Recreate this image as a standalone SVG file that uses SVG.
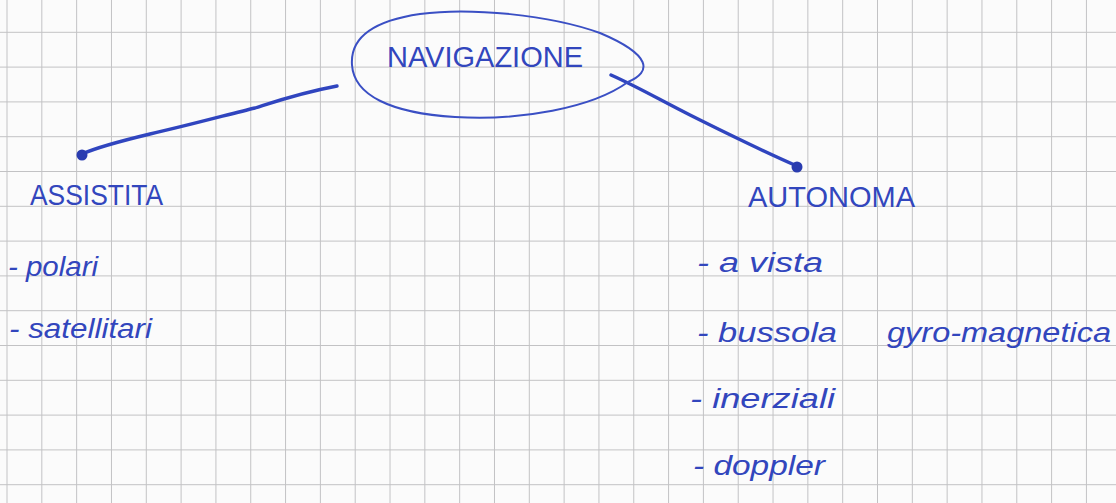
<svg xmlns="http://www.w3.org/2000/svg" width="1116" height="503" viewBox="0 0 1116 503">
  <defs>
    <!-- squared notebook paper -->
    <pattern id="grid" x="6.5" y="-3" width="34.82" height="34.8" patternUnits="userSpaceOnUse">
      <path d="M0 0 V34.8 M0 0 H34.82" fill="none" stroke="#c2c2c4" stroke-width="2"/>
    </pattern>
    <style>
      .ink { fill: #3246bd; font-family: "Liberation Sans", "DejaVu Sans", sans-serif; }
      .cap { font-size: 29px; }
      .low { font-size: 27px; font-style: italic; }
      .pen { fill: none; stroke: #3045bf; stroke-width: 3.4; stroke-linecap: round; stroke-linejoin: round; }
      .thin { fill: none; stroke: #3a4fc4; stroke-width: 2; stroke-linecap: round; }
      .dot { fill: #2a3cb0; }
    </style>
  </defs>

  <rect width="1116" height="503" fill="#fbfbfb"/>
  <rect width="1116" height="503" fill="url(#grid)"/>

  <!-- connectors -->
  <g id="connectors">
    <path class="pen" d="M82 154 C100 146 125 140 150 134 C190 125 230 114 255 108 C280 100 300 93 337 86"/>
    <circle class="dot" cx="82" cy="155" r="5.5"/>
    <path class="pen" d="M611 75 C640 88 660 100 690 115 C730 135 760 150 797 166"/>
    <circle class="dot" cx="797" cy="167" r="5.5"/>
  </g>

  <!-- root node -->
  <g id="navigazione">
    <path class="thin" d="M628 82 C652 72 652 55 600 33 C550 15 470 7 420 14 C372 21 350 38 352 65 C354 95 390 113 455 117 C520 121 592 108 628 82"/>
    <text class="ink cap" x="387" y="67" textLength="196" lengthAdjust="spacingAndGlyphs">NAVIGAZIONE</text>
  </g>

  <!-- left branch -->
  <g id="assistita">
    <text class="ink cap" x="30" y="205" textLength="133" lengthAdjust="spacingAndGlyphs">ASSISTITA</text>
    <text class="ink low" x="8" y="276" textLength="90" lengthAdjust="spacingAndGlyphs">- polari</text>
    <text class="ink low" x="9" y="338" textLength="143" lengthAdjust="spacingAndGlyphs">- satellitari</text>
  </g>

  <!-- right branch -->
  <g id="autonoma">
    <text class="ink cap" x="748" y="207" textLength="167" lengthAdjust="spacingAndGlyphs">AUTONOMA</text>
    <text class="ink low" x="697" y="272" textLength="126" lengthAdjust="spacingAndGlyphs">- a vista</text>
    <text class="ink low" x="697" y="342" textLength="140" lengthAdjust="spacingAndGlyphs">- bussola</text>
    <text class="ink low" x="887" y="342" textLength="224" lengthAdjust="spacingAndGlyphs">gyro-magnetica</text>
    <text class="ink low" x="690" y="408" textLength="145" lengthAdjust="spacingAndGlyphs">- inerziali</text>
    <text class="ink low" x="693" y="475" textLength="132" lengthAdjust="spacingAndGlyphs">- doppler</text>
  </g>
</svg>
